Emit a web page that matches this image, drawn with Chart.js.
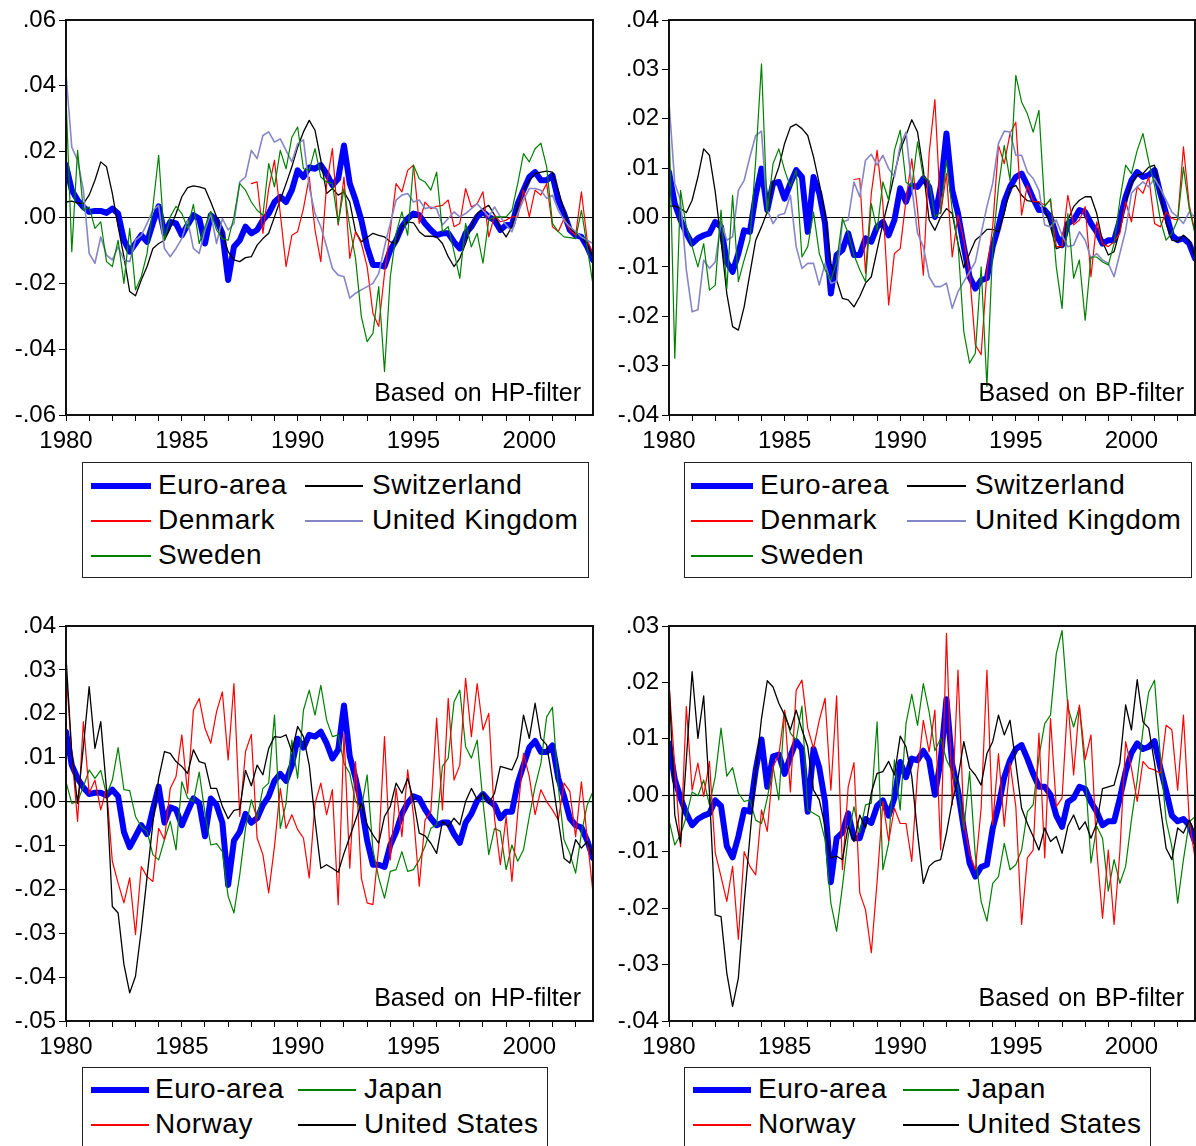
<!DOCTYPE html>
<html>
<head>
<meta charset="utf-8">
<script src="https://cdn.jsdelivr.net/npm/chart.js@4.4.1/dist/chart.umd.min.js"></script>
<style>
  body { margin: 0; background: #fff; width: 1196px; height: 1146px; overflow: hidden; position: relative;
         font-family: "Liberation Sans", Arial, sans-serif; color: #000; }
  .panel { position: absolute; }
  .note { position: absolute; font-size: 25px; line-height: 25px; white-space: nowrap; word-spacing: 2px; }
  .legend { position: absolute; border: 1.5px solid #222; box-sizing: border-box; background: #fff; }
  .item { position: absolute; font-size: 28px; line-height: 30px; letter-spacing: 0.5px; white-space: nowrap; }
  .swatch { position: absolute; }
</style>
</head>
<body>
<script>
// quarterly observations 1980Q1 .. 2002Q4, values in thousandths
const quarters = [];
for (let y = 1980; y <= 2002; y++) for (let q = 0; q < 4; q++) quarters.push(y + q / 4);
const yearTicks = [];
for (let y = 1980; y <= 2002; y++) yearTicks.push(y);

const ticksHPTop = [-0.06, -0.04, -0.02, 0, 0.02, 0.04, 0.06];
const ticksBPTop = [-0.04, -0.03, -0.02, -0.01, 0, 0.01, 0.02, 0.03, 0.04];
const ticksHPBot = [-0.05, -0.04, -0.03, -0.02, -0.01, 0, 0.01, 0.02, 0.03, 0.04];
const ticksBPBot = [-0.04, -0.03, -0.02, -0.01, 0, 0.01, 0.02, 0.03];

// HP-filter
const euroHP = [15.9, 8.3, 5.3, 3.2, 1.7, 2, 2, 1.4, 2.7, 1.2, -6.9, -10.4, -7.9, -5.4, -7.4, -1.8, 3.4, -4.8, -1.3, -1.8,
  -5.4, -2.3, 0.7, -0.3, -7.9, 0.7, -0.8, -4.8, -19, -8.9, -6.9, -2.8, -4.8, -3.8, -0.8, 1.2, 4.7, 6.3, 4.7, 8.3,
  14.3, 12.3, 15.2, 14.8, 15.9, 13.3, 9.8, 11.8, 21.9, 10.3, 5.3, -0.8, -8.9, -14.4, -14.4, -14.9, -9.9, -6.9, -2.8, -0.3,
  1.2, 0.7, -1.8, -3.8, -5.4, -4.8, -4.8, -7.4, -9.4, -4.8, -2.8, 0.2, 1.7, 0.2, -0.8, -3.8, -2.3, -2.3, 4.2, 8.3,
  12.3, 13.8, 11.3, 11.3, 12.8, 5.3, 1.2, -3.8, -5.4, -5.9, -8.9, -12.9];
const switzHP = [4.7, 5, 4.4, 4.2, 6.8, 11.3, 16.9, 15.4, 7.3, -2.8, -11.9, -22.5, -23.8, -19, -14.9, -9.4, -7.9, -6.9, -3.3, 1.2,
  6.3, 9.1, 9.6, 9.3, 8.8, 4.7, 0.2, -4.8, -10.4, -12.9, -13.4, -12.2, -11.9, -8.4, -6.4, -4.8, 0.2, 5.3, 10.3, 15.4,
  21.4, 26, 29.5, 26.5, 17.4, 7.3, 8.8, 6.8, 7.8, 4.7, -4.3, -7.4, -6.1, -4.8, -5.4, -5.9, -7.4, -7.9, -2.8, -1.3,
  -1.6, -4.3, -5.7, -5.7, -5.9, -7.9, -11.9, -14.9, -12.4, -7.9, -2.8, 1.2, 2.7, 3.7, 0.7, -3.3, -5.9, -2.8, 3.2, 8.3,
  11.3, 13.3, 13.8, 14.1, 13.8, 8.3, 2.2, -3.3, -4.8, -5.7, -8.4, -11.9];
const denmarkHP = [null, null, null, null, null, null, null, null, null, null, null, null, null, null, null, null,
  null, null, null, null, null, null, null, null, null, null, null, null, null, null, null, null,
  10.3, 10.8, -4.8, 8.8, 17.4, 1.2, -14.9, -5.4, -4.3, 2.7, 12.3, -3.8, -13.4, 10, 20.9, -2.3, 12.3, -12.4,
  -4.3, -7.9, -14.9, -29.1, -33.1, -17, -3.8, 10.3, 7.8, 14.3, 15.9, -1.8, 4.7, 2.7, 3.4, 3.7, 5.3, -2.8, -1.8, 8.8,
  3.2, 4.2, 7.8, -5.9, 0.7, -1.3, -0.8, 0.2, 0.2, 8.3, 0.2, 8.3, 6.8, 10.3, -2.8, -4.3, -0.3, -3.8, -5.4, 7.8,
  -6.9, -10.9];
const ukHP = [43.6, 21.4, 17.4, 8.3, -10.9, -13.9, -5.9, -11.4, -12.9, -8.9, -12.9, -13.4, -6.9, -5.4, -1.8, 2.2, 3.7, -9.4, -11.9, -9.4,
  -6.4, -0.8, -9.4, -10.9, -3.8, 1.2, -7.9, -0.3, -3.8, -1.8, 10.8, 12.3, 20.4, 17.9, 24.9, 26, 22.9, 23.9, 20.4, 16.9,
  22.4, 23.6, 9.3, 1.2, -2.8, -8.9, -15.5, -17.5, -18, -24.5, -23, -22, -21, -20, -17, -8.9, -1.8, 5.3, 6.8, 7.3,
  4.7, 5.3, 2.7, 3.2, 2.7, -2.3, -0.3, 1.7, 0.2, 1.2, 2.7, 4.2, 2.2, 0.2, 3.2, 0.2, -2.3, -4.3, 1.2, 5.3,
  8.8, 8.8, 8.3, 5.8, 6.8, 2.2, -0.8, -2.8, -4.3, -5.9, -6.9, -7.9];
const swedenHP = [36.6, -10.4, 20.4, 2.2, 3.2, -3.3, -1.3, -13.4, -14.9, -6.9, -20, -3.3, -22, -18, -10.9, 3.2, 18.9, -6.9, 0.2, 3.4,
  1.2, -3.3, 4, -7.9, -2.8, 1.9, -3.8, -6.4, -6.9, 0.2, 10.3, 8.3, 4.7, 2.2, 0.7, 16.4, 9.3, 20.4, 14.8, 24.4,
  27.5, 14.8, 14.3, 20.9, 12.3, 10.8, 10.3, -1.8, 8.8, -2.8, -12.4, -30.1, -37.7, -35.2, -21, -46.8, -18, -4.8, 1.7, -5.4,
  15.9, 11.8, 10.8, 8.3, 13.8, -4.3, -2.8, -10.4, -18.5, -1.8, -8.9, -4.8, -13.9, -0.8, 0.2, 0.2, 0.2, 2.2, 10.3, 19.4,
  16.9, 20.9, 22.6, 15.4, -1.8, -4.3, -5.9, -6.1, -6.4, 2.2, -8.9, -20.5];
const japanHP = [4.5, -0.4, 0, 3.4, 7.2, 5.3, 7.1, 1.5, 4.9, 12.3, 2.7, 2.5, -3.4, -5.7, -6.8, -12.1, -13.3, -8.7, -4.5, -11,
  4.5, 0.8, 0, 6.7, -2.7, -9.9, -9.6, -11.4, -21.6, -25.4, -16.7, -6.1, 0.4, -3.8, 3, 4.2, 19.7, -6.1, -0.4, 14,
  5.3, 20.8, 25.4, 19.7, 26.5, 18.6, 14.8, 15.2, 8.7, 6.4, 0, -1.5, 6.1, -11, -17.4, -22, -15.9, -15.5, -11.4, -15.9,
  -15.5, -13.3, -10.2, -6.1, -5.3, 8, 9.9, 22.7, 25.4, 12.5, 9.9, 14, 0, -12.1, -6.1, -6.8, -15.5, -9.9, -13.6, -11,
  -3.4, 3.4, 8.7, 19.3, 21.5, 3.4, -8.7, -11.8, -16.3, -7.2, -0.8, 2.3];
const norwayHP = [30, 11, -4.5, 18.2, 1.9, 4.9, -1.9, 3, -13.6, -18.6, -23.1, -17.4, -30.3, -14.8, -17.1, -18.2, -6.1, -8.7, 3, 5.7,
  15.2, 1.9, 20.8, 23.5, 16.7, 13.3, 20.5, 25, 9.5, 26.9, -3.4, 11.4, 15.3, -8.3, -12.1, -20.8, -10.2, 3, -6.1, -3,
  -6.4, -8.3, -17.4, -0.4, 4.2, -3, 2.7, -23.5, 15.5, -15.2, 9.1, -17.4, -23.1, -23.5, -10.2, 14.8, -13.3, 3, -8, 7.2,
  -3, -19.3, -4.2, -2.3, 19, -1.9, 23.5, 4.9, 8.3, 28.1, 14.8, 26.9, 16.3, 20.1, -3.8, -14.4, -3.4, -18.2, -2.7, 11,
  5.7, -3, 2.7, 0, -1.9, -4.2, 4.2, 2.3, -8, 4.5, -8.3, -20.8];
const usHP = [33, 11, -0.4, 12.5, 26.2, 12.1, 18.2, 2.7, -23.9, -25.4, -37.1, -43.6, -39.8, -29.2, -17.1, -4.9, 5.3, 11.4, 11, 9.1,
  8, 6.4, 11.8, 9.1, 8.7, 3, 3, -1.1, -3.9, -2, -1.7, 7.1, 3.6, 8.3, 6.1, 12.1, 14.8, 14.6, 15.2, 11.4,
  17.1, 14.8, 8.3, -4.2, -15.2, -14.4, -15.2, -16.1, -11.8, -8, -4.2, -0.4, -5.3, -7.6, -9.5, -3.4, -1.1, 4.2, 1.9, 5.3,
  0.4, -7.2, -7.8, -9.5, -11.8, -4.5, -5.7, -3.8, -5.3, 0, 3, 0.5, 1.9, -0.4, 1.9, 8, 7.6, 7.2, 10.2, 19.7,
  14.4, 22.4, 14.4, 12.9, 4.9, -4.2, -12.9, -14, -8.7, -10.6, -9.1, -12.5];

// BP-filter
const euroBP = [9.2, 2.8, -0.5, -3.2, -5.3, -4.2, -3.6, -3.2, -0.9, -1.9, -9, -11, -7.3, -2.6, -2.9, 4.5, 9.9, 1.5, 6.9, 7.2,
  3.8, 6.9, 9.6, 8.2, -2.9, 8.2, 4.9, -1.2, -15.4, -7.6, -6.6, -3.2, -7.6, -7.6, -4.2, -4.9, -1.9, -0.9, -3.6, -0.5,
  5.9, 3.2, 6.5, 6.2, 7.9, 6.2, 0.1, 6.2, 17, 5.5, 0.8, -5.9, -12, -14.4, -12.7, -12.3, -5.9, -1.9, 3.2, 6.2,
  8.2, 8.9, 6.5, 3.8, 1.5, 1.5, 0.1, -3.6, -5.6, -1.2, -0.5, 1.5, 1.1, -1.2, -2.9, -5.3, -4.6, -4.6, -0.5, 4.2,
  7.5, 9.2, 8.2, 8.6, 9.6, 4.9, 0.8, -3.6, -4.6, -4.2, -5.3, -8.3];
const switzBP = [2.3, 2.3, 1.8, 1, 3.5, 8.2, 13.9, 12.6, 5.2, -4.6, -15.4, -22.1, -22.8, -18.1, -11.3, -4.6, -1.9, 1.1, 6.9, 10.2,
  15, 18.3, 18.9, 18, 16.6, 12.3, 6.9, 0.8, -9.3, -12.7, -16.4, -16.7, -18.1, -16, -13.3, -12, -6.6, -1.2, 3.5, 8.9,
  13.6, 16.6, 19.8, 17.3, 9.6, -0.5, -2.6, 0.1, 1.8, 0.8, -5.3, -10.2, -7.3, -4.6, -3.6, -2.4, -2.4, -2.9, 0.8, 5.9,
  6.5, 4.5, 3.4, 3.2, 3, 1.8, -1.9, -6.3, -5.9, -0.5, 2.2, 3.5, 4.2, 4.2, 0.8, -4.9, -7.6, -6.9, -2.6, 3.2,
  6.9, 8.6, 8.9, 10.2, 10.6, 4.9, -1.2, -4.6, -4.9, -3.6, -4.6, -8];
const denmarkBP = [null, null, null, null, null, null, null, null, null, null, null, null, null, null, null, null,
  null, null, null, null, null, null, null, null, null, null, null, null, null, null, null, null,
  7.7, 7.9, -11.3, 4.9, 13.6, 2.8, -17.7, -7.3, -6.3, 3.5, 11.9, 1.5, -11.7, 12.9, 23.9, 0.8, 8.9, -8,
  0.5, -4.6, -11.3, -25.8, -27.8, -11, -1.9, 14.6, 10.9, 17, 19.3, 0.5, 6.5, 3.2, 3.2, 2.5, 3.5, -5.9, -5.9, 4.5,
  -1.5, -0.5, 2.2, -12, -0.9, -5.3, -5.9, -4.9, -3.2, 3.2, -0.9, 6.2, 4.9, 8.2, -1.2, -1.9, 1.1, -0.2, -0.5, 14.3,
  2.5, -2.9];
const ukBP = [23.4, 6.9, 3.5, -10.6, -19.1, -18.7, -8.6, -10.3, -9, -0.9, -4.6, -3.9, 5.5, 7.5, 12.3, 16.6, 17.5, 1.5, -1.2, 0.5,
  0.8, 4.5, -5.9, -10.3, -9.3, -9.3, -13.7, -9.3, -13.3, -13, -0.9, -0.5, 7.2, 4.2, 11.6, 12.8, 10.6, 12.6, 9.9, 8.2,
  14.6, 17.3, 6.2, -3.2, -5.9, -12, -14, -14, -13.3, -18.4, -15, -13, -11, -9, -3.2, 2.2, 6.9, 15, 17.5, 17.3,
  12.6, 12.6, 9.2, 7.9, 5.5, -1.5, -1.9, -0.5, -3.6, -5.9, -5.6, -2.9, -4.6, -8.3, -7.3, -8.6, -9.3, -12, -7.3, -2.6,
  4.9, 6.2, 7.2, 6.2, 7.9, 5.9, 3.5, 1.1, 0.1, -1.2, 1.1, 0.1];
const swedenBP = [20, -28.5, 5.5, -1.9, -5.9, -10, -5.3, -14.7, -13.7, 1.5, -14.4, 4.5, -13, -8.6, -4.6, 11.6, 31.1, 0.8, 10.9, 13.9,
  9.6, 6.2, 9.6, -8, -5.9, 1.1, -7.3, -10.6, -12.7, -9, -0.2, -3.2, -7.6, -10.6, -13, 2.8, -2.6, 7.2, 3.5, 13.6,
  17.7, 7.2, 6.2, 15.3, 8.2, 7.5, 0.1, 1.1, 11.6, 1.5, -5.3, -23.1, -29.5, -27.5, -10, -34.2, -5.9, 6.2, 14.6, 7.5,
  28.8, 23.4, 21, 17.3, 21.7, 2.2, 3.8, -10, -18.4, 0.8, -12.3, -8.6, -20.8, -8, -8, -9, -9.6, -5.3, 3.5, 10.6,
  8.9, 13.6, 17, 11.3, 6.5, -0.5, -4.6, -3.2, -0.5, 10.2, 1.8, -3.2];
const japanBP = [-4.4, -8.8, -7, -3.8, 0.6, -0.1, 2.7, -1.7, 3.3, 11.9, 3.4, 4.9, 0.4, -1.1, -0.8, -4.4, -5, -0.5, 5.1, -0.8,
  14.8, 11, 9.8, 15.8, -2.6, -3.2, -3.8, -7.9, -19.1, -24.1, -16.2, -7.3, -2, -6.7, -1.7, -1.4, 13, -13.2, -8.5, 6.3,
  -2.6, 12.7, 17.9, 12.4, 19.8, 14.8, 7.9, 10.1, 6.3, 4.2, 1.5, -6.1, 4.2, -10.8, -18.8, -22.3, -15.6, -14.4, -8.5, -13.2,
  -12.3, -9.7, -2.9, -1.7, 6.8, 12.7, 14.2, 25.1, 29.2, 15.7, 12.1, 15.7, 4.2, -12, -5.5, -7.6, -17, -11.4, -15.6, -12.6,
  -4.4, 2.7, 11.6, 18.3, 20.4, 6.8, -4.4, -9.1, -19.1, -11.4, -4.7, -3.8];
const norwayBP = [19.8, 5.1, -9.1, 15.7, 0.9, 5.7, -0.2, 6, -10.2, -14.4, -18.8, -12.6, -25.5, -10, -12.6, -14.1, -2.6, -6.4, 5.1, 7.1,
  15.1, 0.6, 18.6, 20.4, 11.9, 8.3, 13.3, 17.2, 0.9, 17.6, -13.2, 1.5, 5.8, -17.3, -20.3, -27.9, -15.3, -1.1, -8.1, -2.3,
  -5, -5, -11.7, 3.9, 13.3, 7.7, 15.1, -9.7, 28.7, -1.7, 22.2, -4.7, -10.3, -13.2, -2.3, 22.2, -5.2, 7.4, -5.5, 5.7,
  -2, -22.9, -11.1, -9.7, 11, -11.1, 13.6, -2, -0.5, 16.9, 3.6, 16, 6.3, 10.7, -9.7, -21.8, -9.7, -22.9, -10, 9.5,
  4.8, -1.1, 6, 4.8, 4.5, 3.9, 12.4, 11.6, 0.9, 14.2, -4.4, -11.1];
const usBP = [20.4, -3.5, -8.5, 6.3, 21.9, 10.1, 17.6, 0.4, -21.2, -21.5, -31.5, -37.4, -32.4, -19.1, -7.3, 4.2, 13.6, 20.3, 19.2, 16.3,
  14.2, 11.6, 15.1, 11.6, 8.6, 0.9, -0.8, -5.5, -11.1, -10.8, -11.4, -5.5, -8.2, -3.5, -5.8, 0.4, 3.9, 4.2, 6, 3.6,
  10.5, 8.6, 3.3, -6.7, -15.6, -12.6, -11.7, -11.4, -6.7, -1.1, 3, 9.5, 4.8, 3.6, 1.8, 7.4, 9.5, 14.2, 10.7, 13.3,
  5.7, -2.3, -5, -7.3, -9.7, -5.8, -8.2, -7.3, -10.3, -5.5, -3.5, -6.1, -4.7, -7.6, -5, 1.2, 1.5, 1.8, 5.7, 16,
  11.6, 20.5, 13, 11.9, 5.7, -2, -9.4, -11.4, -5.8, -6.7, -4.4, -6.7];

const EURO = { color: '#0000ff', width: 6 };
const BLACK = { color: '#000000', width: 1.3 };
const RED = { color: '#ff0000', width: 1.2 };
const LILAC = { color: '#8686c6', width: 1.6 };
const GREEN = { color: '#008000', width: 1.2 };

function fmtTick(v) {
  const s = Math.abs(v).toFixed(2).slice(1);
  return (v < -1e-9 ? '-' : '') + s;
}

const framePlugin = {
  id: 'frame',
  beforeDatasetsDraw(chart) {
    const { ctx, chartArea: a } = chart;
    const y0 = chart.scales.y.getPixelForValue(0);
    ctx.save();
    ctx.strokeStyle = '#000';
    ctx.lineWidth = 1.2;
    ctx.beginPath();
    ctx.moveTo(a.left, y0);
    ctx.lineTo(a.right, y0);
    ctx.stroke();
    ctx.restore();
  },
  afterDraw(chart) {
    const { ctx, chartArea: a } = chart;
    ctx.save();
    ctx.strokeStyle = '#111';
    ctx.lineWidth = 2;
    ctx.strokeRect(a.left, a.top, a.right - a.left, a.bottom - a.top);
    ctx.restore();
  }
};

function makePanel(p) {
  const wrap = document.createElement('div');
  wrap.className = 'panel';
  Object.assign(wrap.style, { left: p.left + 'px', top: p.top + 'px', width: p.width + 'px', height: p.height + 'px' });
  const canvas = document.createElement('canvas');
  wrap.appendChild(canvas);
  document.body.appendChild(wrap);

  const n = p.series.length;
  const datasets = p.series.map((s, k) => ({
    label: s.label,
    data: s.data.map((v, i) => ({ x: quarters[i], y: v === null ? null : v / 1000 })),
    borderColor: s.style.color,
    borderWidth: s.style.width,
    borderJoinStyle: 'round',
    borderCapStyle: 'round',
    pointRadius: 0,
    tension: 0,
    spanGaps: false,
    order: n - k
  }));

  new Chart(canvas, {
    type: 'line',
    data: { datasets },
    options: {
      responsive: true,
      maintainAspectRatio: false,
      animation: false,
      layout: { padding: { top: 20, right: p.padRight, left: 0, bottom: 0 } },
      plugins: { legend: { display: false }, tooltip: { enabled: false } },
      scales: {
        x: {
          type: 'linear', min: 1980, max: 2002.75,
          afterBuildTicks: s => { s.ticks = yearTicks.map(v => ({ value: v })); },
          afterFit: s => { s.height = 45; },
          border: { display: false },
          grid: { drawOnChartArea: false, drawTicks: true, tickLength: 6, color: '#000' },
          ticks: { autoSkip: false, maxRotation: 0, padding: 6, color: '#000',
                   font: { family: 'Liberation Sans', size: 24 },
                   callback: v => (v % 5 === 0 ? String(v) : '') }
        },
        y: {
          min: p.yTicks[0], max: p.yTicks[p.yTicks.length - 1],
          afterBuildTicks: s => { s.ticks = p.yTicks.map(v => ({ value: v })); },
          afterFit: s => { s.width = 66; },
          border: { display: false },
          grid: { drawOnChartArea: false, drawTicks: true, tickLength: 7, color: '#000' },
          ticks: { padding: 3, color: '#000', font: { family: 'Liberation Sans', size: 24 },
                   callback: v => fmtTick(v) }
        }
      }
    },
    plugins: [framePlugin]
  });

  const note = document.createElement('div');
  note.className = 'note';
  note.textContent = p.note;
  Object.assign(note.style, { right: (1196 - p.noteRight) + 'px', top: p.noteTop + 'px' });
  document.body.appendChild(note);

  const lg = p.legend;
  const box = document.createElement('div');
  box.className = 'legend';
  Object.assign(box.style, { left: lg.left + 'px', top: lg.top + 'px', width: lg.width + 'px', height: lg.height + 'px' });
  p.series.forEach((s, k) => {
    const col = k % 2, row = Math.floor(k / 2);
    const cy = lg.rowTop + row * 35;
    const sw = document.createElement('div');
    sw.className = 'swatch';
    Object.assign(sw.style, {
      left: lg.swatch[col][0] + 'px', width: (lg.swatch[col][1] - lg.swatch[col][0]) + 'px',
      top: (cy - s.style.width / 2) + 'px', height: s.style.width + 'px', background: s.style.color
    });
    const tx = document.createElement('div');
    tx.className = 'item';
    tx.textContent = s.label;
    Object.assign(tx.style, { left: lg.text[col] + 'px', top: (cy - 16) + 'px' });
    box.appendChild(sw);
    box.appendChild(tx);
  });
  document.body.appendChild(box);
}

makePanel({
  left: 0, top: 0, width: 598, height: 460, padRight: 5, yTicks: ticksHPTop,
  note: 'Based on HP-filter', noteRight: 581, noteTop: 380,
  legend: { left: 82, top: 462, width: 507, height: 116, rowTop: 23,
            swatch: [[8, 68], [222, 280]], text: [75, 289] },
  series: [
    { label: 'Euro-area', data: euroHP, style: EURO },
    { label: 'Switzerland', data: switzHP, style: BLACK },
    { label: 'Denmark', data: denmarkHP, style: RED },
    { label: 'United Kingdom', data: ukHP, style: LILAC },
    { label: 'Sweden', data: swedenHP, style: GREEN }
  ]
});

makePanel({
  left: 603, top: 0, width: 593, height: 460, padRight: 1, yTicks: ticksBPTop,
  note: 'Based on BP-filter', noteRight: 1184, noteTop: 380,
  legend: { left: 684, top: 462, width: 508, height: 116, rowTop: 23,
            swatch: [[6, 68], [222, 281]], text: [75, 290] },
  series: [
    { label: 'Euro-area', data: euroBP, style: EURO },
    { label: 'Switzerland', data: switzBP, style: BLACK },
    { label: 'Denmark', data: denmarkBP, style: RED },
    { label: 'United Kingdom', data: ukBP, style: LILAC },
    { label: 'Sweden', data: swedenBP, style: GREEN }
  ]
});

makePanel({
  left: 0, top: 606, width: 598, height: 460, padRight: 5, yTicks: ticksHPBot,
  note: 'Based on HP-filter', noteRight: 581, noteTop: 985,
  legend: { left: 82, top: 1067, width: 466, height: 95, rowTop: 22,
            swatch: [[8, 66], [215, 273]], text: [72, 281] },
  series: [
    { label: 'Euro-area', data: euroHP, style: EURO },
    { label: 'Japan', data: japanHP, style: GREEN },
    { label: 'Norway', data: norwayHP, style: RED },
    { label: 'United States', data: usHP, style: BLACK }
  ]
});

makePanel({
  left: 603, top: 606, width: 593, height: 460, padRight: 1, yTicks: ticksBPBot,
  note: 'Based on BP-filter', noteRight: 1184, noteTop: 985,
  legend: { left: 684, top: 1067, width: 467, height: 95, rowTop: 22,
            swatch: [[8, 66], [218, 274]], text: [73, 282] },
  series: [
    { label: 'Euro-area', data: euroBP, style: EURO },
    { label: 'Japan', data: japanBP, style: GREEN },
    { label: 'Norway', data: norwayBP, style: RED },
    { label: 'United States', data: usBP, style: BLACK }
  ]
});
</script>
</body>
</html>
